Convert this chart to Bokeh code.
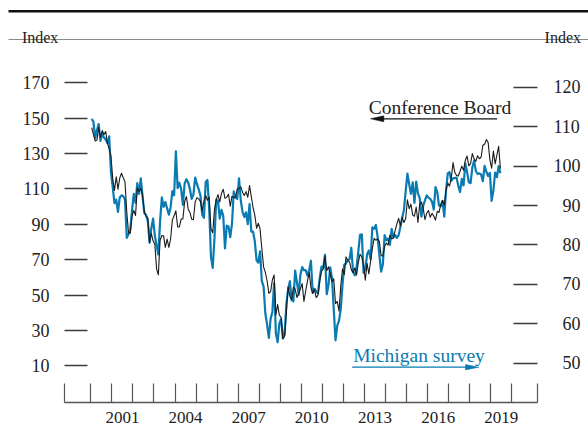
import numpy as np
import pandas as pd
from bokeh.plotting import figure
from bokeh.models import Range1d, LinearAxis, FixedTicker
from bokeh.embed import file_html
from bokeh.resources import INLINE
from bokeh.core.properties import value

# ---------------- data (monthly, Jan 2000 - Jun 2019) ----------------
cb_2000 = [144.7, 140.8, 137.1, 137.7, 144.7, 139.2, 143.0, 140.8, 142.5, 135.8, 132.6, 128.6]
cb_2001 = [115.7, 109.2, 116.9, 109.9, 116.1, 118.9, 116.3, 114.0, 97.0, 85.3, 84.9, 94.6]
cb_2002 = [97.8, 95.0, 110.7, 108.5, 110.3, 106.3, 97.4, 94.5, 93.7, 79.6, 84.9, 80.7]
cb_2003 = [78.8, 64.8, 61.4, 81.0, 83.6, 83.5, 77.0, 81.7, 77.0, 81.7, 92.5, 94.8]
cb_2004 = [97.7, 88.5, 88.5, 93.0, 93.1, 102.8, 105.7, 98.7, 96.7, 92.9, 92.6, 102.7]
cb_2005 = [105.1, 104.4, 103.0, 97.5, 103.1, 106.2, 103.6, 105.5, 87.5, 85.2, 98.3, 103.8]
cb_2006 = [106.8, 102.7, 107.5, 109.8, 104.7, 105.4, 107.0, 100.2, 105.9, 105.1, 105.3, 110.0]
cb_2007 = [110.2, 111.2, 108.2, 106.3, 108.5, 105.3, 111.9, 105.6, 99.5, 95.2, 87.8, 90.6]
cb_2008 = [87.3, 76.4, 65.9, 62.8, 58.1, 51.0, 51.9, 58.5, 61.4, 38.8, 44.7, 38.6]
cb_2009 = [37.4, 25.3, 26.9, 40.8, 54.8, 49.3, 47.4, 54.5, 53.4, 48.7, 50.6, 53.6]
cb_2010 = [56.5, 46.4, 52.3, 57.9, 62.7, 54.3, 51.0, 53.2, 48.6, 49.9, 57.8, 63.4]
cb_2011 = [64.8, 72.0, 63.8, 66.0, 61.7, 57.6, 59.2, 45.2, 46.4, 40.9, 55.2, 64.8]
cb_2012 = [61.5, 71.6, 69.5, 68.7, 64.4, 62.7, 65.4, 61.3, 68.4, 73.1, 71.5, 66.7]
cb_2013 = [58.4, 68.0, 61.9, 69.0, 76.2, 82.1, 81.0, 81.8, 80.2, 72.4, 72.0, 77.5]
cb_2014 = [79.4, 78.3, 83.9, 81.7, 82.2, 86.4, 90.3, 93.4, 89.0, 94.1, 91.0, 93.1]
cb_2015 = [103.8, 98.8, 101.4, 95.2, 94.6, 99.8, 91.0, 101.3, 102.6, 99.1, 92.6, 96.3]
cb_2016 = [97.8, 94.0, 96.2, 94.7, 92.4, 97.4, 96.7, 101.1, 103.5, 100.8, 109.4, 113.3]
cb_2017 = [111.6, 116.1, 124.9, 119.4, 117.6, 117.3, 120.0, 122.9, 120.6, 126.2, 128.6, 123.1]
cb_2018 = [124.3, 130.0, 127.0, 125.6, 128.8, 127.1, 127.9, 134.7, 135.3, 137.9, 136.4, 126.6]
cb_2019 = [121.7, 131.4, 124.2, 129.2, 134.1, 121.5]

mi_2000 = [112.0, 111.3, 107.1, 109.2, 110.7, 106.4, 108.3, 107.3, 106.8, 105.8, 107.6, 98.4]
mi_2001 = [94.7, 90.6, 91.5, 88.4, 92.0, 92.6, 92.4, 91.5, 81.8, 82.7, 83.9, 88.8]
mi_2002 = [93.0, 90.7, 95.7, 93.0, 96.9, 92.4, 88.1, 87.6, 86.1, 80.6, 84.2, 86.7]
mi_2003 = [82.4, 79.9, 77.6, 86.0, 92.1, 89.7, 90.9, 89.3, 87.7, 89.6, 93.7, 92.6]
mi_2004 = [103.8, 94.4, 95.8, 94.2, 90.2, 95.6, 96.7, 95.9, 94.2, 91.7, 92.8, 97.1]
mi_2005 = [95.5, 94.1, 92.6, 87.7, 86.9, 96.0, 96.5, 89.1, 76.9, 74.2, 81.6, 91.5]
mi_2006 = [91.2, 86.7, 88.9, 87.4, 79.1, 84.9, 84.7, 82.0, 85.4, 93.6, 92.1, 91.7]
mi_2007 = [96.9, 91.3, 88.4, 87.1, 88.3, 85.3, 90.4, 83.4, 83.4, 80.9, 76.1, 75.5]
mi_2008 = [78.4, 70.8, 69.5, 62.6, 59.8, 56.4, 61.2, 63.0, 70.3, 57.6, 55.3, 60.1]
mi_2009 = [61.2, 56.3, 57.3, 65.1, 68.7, 70.8, 66.0, 65.7, 73.5, 70.6, 67.4, 72.5]
mi_2010 = [74.4, 73.6, 73.6, 72.2, 73.6, 76.0, 67.8, 68.9, 68.2, 67.7, 71.6, 74.5]
mi_2011 = [74.2, 77.5, 67.5, 69.8, 74.3, 71.5, 63.7, 55.8, 59.5, 60.8, 63.7, 69.9]
mi_2012 = [75.0, 75.3, 76.2, 76.4, 79.3, 73.2, 72.3, 74.3, 78.3, 82.6, 82.7, 72.9]
mi_2013 = [73.8, 77.6, 78.6, 76.4, 84.5, 84.1, 85.1, 82.1, 77.5, 73.2, 75.1, 82.5]
mi_2014 = [81.2, 81.6, 80.0, 84.1, 81.9, 82.5, 81.8, 82.5, 84.6, 86.9, 88.8, 93.6]
mi_2015 = [98.1, 95.4, 93.0, 95.9, 90.7, 96.1, 93.1, 91.9, 87.2, 90.0, 91.3, 92.6]
mi_2016 = [92.0, 91.7, 91.0, 89.0, 94.7, 93.5, 90.0, 89.8, 91.2, 87.2, 93.8, 98.2]
mi_2017 = [98.5, 96.3, 96.9, 97.0, 97.1, 95.0, 93.4, 96.8, 95.1, 100.7, 98.5, 95.9]
mi_2018 = [95.7, 99.7, 101.4, 98.8, 98.0, 98.2, 97.9, 96.2, 100.1, 98.6, 97.5, 98.3]
mi_2019 = [91.2, 93.8, 98.4, 97.2, 100.0, 98.2]

conference_board = (cb_2000 + cb_2001 + cb_2002 + cb_2003 + cb_2004 + cb_2005 + cb_2006 +
                    cb_2007 + cb_2008 + cb_2009 + cb_2010 + cb_2011 + cb_2012 + cb_2013 +
                    cb_2014 + cb_2015 + cb_2016 + cb_2017 + cb_2018 + cb_2019)
michigan = (mi_2000 + mi_2001 + mi_2002 + mi_2003 + mi_2004 + mi_2005 + mi_2006 +
            mi_2007 + mi_2008 + mi_2009 + mi_2010 + mi_2011 + mi_2012 + mi_2013 +
            mi_2014 + mi_2015 + mi_2016 + mi_2017 + mi_2018 + mi_2019)

x_tick_years = list(range(2000, 2021))
x_label_years = [2001, 2004, 2007, 2010, 2013, 2016, 2019]
x_labels = ["2001", "2004", "2007", "2010", "2013", "2016", "2019"]
left_ticks = [10, 30, 50, 70, 90, 110, 130, 150, 170]
right_ticks = [50, 60, 70, 80, 90, 100, 110, 120]

dates = pd.date_range("2000-01-01", periods=len(conference_board), freq="MS")
xs = (dates.year + (dates.month - 0.5) / 12.0).to_numpy()

# ---------------- layout calibration (pixel -> data) ----------------
W, H = 588, 425
PX_PER_YEAR = 21.05
X_2000 = 90.3
def yr(px):            # canvas x -> year
    return 2000 + (px - X_2000) / PX_PER_YEAR
def lv(py):            # canvas y -> left-axis value
    return 150 - (py - 117.7) / 1.76875
def rv(py):            # canvas y -> right-axis value
    return 100 - (py - 165.7) / 3.9386

X0, X1 = yr(64), yr(537)          # ends of the time axis
X_AXIS_Y = lv(402)

FONT = "Liberation Serif"
BLUE = "#0a7bb2"
INK = "#1a1a1a"
TXT = "#222222"

p = figure(width=W, height=H, x_range=Range1d(yr(0), yr(W)), y_range=Range1d(lv(H), lv(0)),
           x_axis_location=None, y_axis_location=None, min_border=0,
           toolbar_location=None, output_backend="svg", title=None)
p.extra_y_ranges = {"right": Range1d(rv(H), rv(0))}
p.grid.visible = False
p.outline_line_color = None
p.background_fill_color = "white"
p.border_fill_color = "white"

# header rules and labels
p.segment(x0=[yr(8)], y0=[lv(10.8)], x1=[yr(W)], y1=[lv(10.8)], line_color="#111111", line_width=2.5)
p.segment(x0=[yr(8)], y0=[lv(39)], x1=[yr(W)], y1=[lv(39)], line_color="#8c8c8c", line_width=1.2)
p.text(x=[yr(21.4)], y=[lv(37)], text=["Index"], text_font=value(FONT), text_font_size="16px",
       text_color=TXT, text_align="left", text_baseline="alphabetic")
p.text(x=[yr(580.5)], y=[lv(37)], text=["Index"], text_font=value(FONT), text_font_size="16px",
       text_color=TXT, text_align="right", text_baseline="alphabetic")

# time axis
xa = LinearAxis(fixed_location=X_AXIS_Y,
                ticker=FixedTicker(ticks=[y + 0.5 for y in x_label_years],
                                   minor_ticks=[X0] + x_tick_years + [X1]))
xa.axis_line_color = None
xa.major_tick_line_color = None
xa.minor_tick_in = 19
xa.minor_tick_out = 0
xa.minor_tick_line_color = "#555555"
xa.minor_tick_line_width = 1.2
xa.major_label_overrides = {y + 0.5: lab for y, lab in zip(x_label_years, x_labels)}
xa.major_label_standoff = 3
xa.major_label_text_font = FONT
xa.major_label_text_font_size = "17px"
xa.major_label_text_color = TXT
p.add_layout(xa, "below")
p.segment(x0=[X0], y0=[X_AXIS_Y], x1=[X1], y1=[X_AXIS_Y], line_color="#555555", line_width=1.3)

# left axis
ya = LinearAxis(fixed_location=X0, ticker=FixedTicker(ticks=left_ticks))
ya.axis_line_color = None
ya.major_tick_in = 23
ya.major_tick_out = 0
ya.minor_tick_line_color = None
ya.major_tick_line_color = "#3a3a3a"
ya.major_tick_line_width = 1.3
ya.major_label_standoff = 15
ya.major_label_text_font = FONT
ya.major_label_text_font_size = "18px"
ya.major_label_text_color = TXT
p.add_layout(ya, "left")

# right axis
ra = LinearAxis(y_range_name="right", fixed_location=X1, ticker=FixedTicker(ticks=right_ticks))
ra.axis_line_color = None
ra.major_tick_in = 24
ra.major_tick_out = 0
ra.minor_tick_line_color = None
ra.major_tick_line_color = "#3a3a3a"
ra.major_tick_line_width = 1.3
ra.major_label_standoff = 16
ra.major_label_text_font = FONT
ra.major_label_text_font_size = "18px"
ra.major_label_text_color = TXT
ra.major_label_overrides = {t: ("\u2002" + str(t) if t < 100 else str(t)) for t in right_ticks}
p.add_layout(ra, "right")

# series
p.line(xs, michigan, y_range_name="right", line_color=BLUE, line_width=2.2, line_join="round")
p.line(xs, conference_board, line_color=INK, line_width=1.1, line_join="round")

# series captions with arrows
p.text(x=[yr(368.3)], y=[lv(106.7)], text=["Conference Board"], text_font=value(FONT),
       text_font_size="19.5px", text_color=TXT, text_align="left", text_baseline="alphabetic")
p.segment(x0=[yr(382)], y0=[lv(118.3)], x1=[yr(496.7)], y1=[lv(118.3)], line_color="#111111", line_width=1.3)
p.patch(x=[yr(370), yr(383.3), yr(383.3)], y=[lv(118.3), lv(115.3), lv(121.3)],
        fill_color="#111111", line_color="#111111", line_width=0.5)

p.text(x=[yr(352.7)], y=[lv(354.5)], text=["Michigan survey"], text_font=value(FONT),
       text_font_size="19.5px", text_color=BLUE, text_align="left", text_baseline="alphabetic")
p.segment(x0=[yr(351.7)], y0=[lv(366.7)], x1=[yr(466)], y1=[lv(366.7)], line_color=BLUE, line_width=1.3)
p.patch(x=[yr(478.3), yr(465), yr(465)], y=[lv(366.7), lv(364.0), lv(369.4)],
        fill_color=BLUE, line_color=BLUE, line_width=0.5)

open("out.html", "w").write(file_html(p, INLINE))
